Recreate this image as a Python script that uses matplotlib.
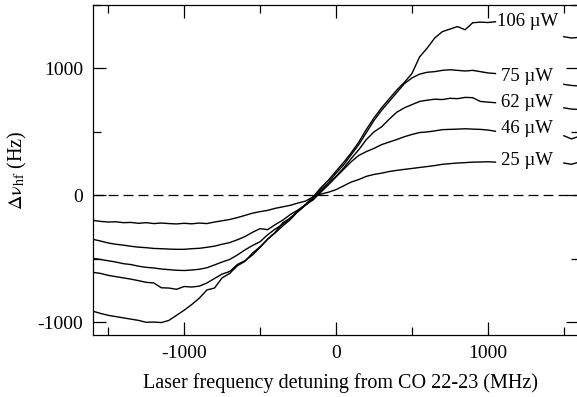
import numpy as np
import matplotlib
matplotlib.use('Agg')
import matplotlib.pyplot as plt
from matplotlib.ticker import MultipleLocator

plt.rcParams['font.family'] = ['Liberation Serif', 'DejaVu Serif']
plt.rcParams['mathtext.fontset'] = 'stix'
plt.rcParams['axes.unicode_minus'] = False

# detuning grid (MHz); nan = hidden behind the labels
detuning = np.arange(-1600, 1601, 50)

p25 = [-197, -205, -210, -208, -215, -213, -220, -215, -222, -218, -222, -225, -220, -224, -218, -222,
       -210, -200, -190, -175, -158, -140, -128, -118, -102, -90, -78, -60, -45, -10, 10, 25, 45, 75, 105,
       125, 150, 165, 175, 188, 197, 205, 212, 220, 227, 235, 245, 250, 255, 258, 262, 263, 265, 262,
       np.nan, np.nan, np.nan, np.nan, np.nan, np.nan, np.nan, np.nan, 255, 245, 262]
p46 = [-346, -360, -375, -385, -392, -401, -408, -412, -418, -420, -423, -425, -425, -420, -417, -409,
       -400, -385, -372, -350, -325, -291, -262, -270, -230, -195, -150, -115, -75, -35, 25, 85, 145, 205,
       265, 315, 345, 370, 400, 420, 440, 462, 480, 495, 500, 508, 518, 520, 522, 525, 522, 520, 515, 505,
       np.nan, np.nan, np.nan, np.nan, np.nan, np.nan, np.nan, np.nan, 470, 445, 465]
p62 = [-496, -505, -515, -525, -538, -545, -558, -567, -572, -580, -585, -590, -592, -588, -582, -570,
       -548, -525, -505, -470, -430, -395, -365, -310, -265, -228, -175, -128, -75, -25, 30, 85, 150, 215,
       290, 360, 440, 500, 540, 600, 655, 690, 715, 740, 750, 758, 755, 765, 762, 772, 770, 740, 735, 730,
       np.nan, np.nan, np.nan, np.nan, np.nan, np.nan, np.nan, np.nan, 690, 680, 677]
p75 = [-606, -615, -630, -640, -650, -660, -672, -685, -690, -728, -730, -740, -718, -722, -715, -690,
       -655, -620, -600, -545, -515, -470, -410, -345, -295, -240, -190, -125, -75, -20, 45, 100, 175, 240,
       320, 400, 495, 590, 670, 740, 810, 880, 925, 955, 970, 975, 985, 990, 985, 980, 985, 975, 965, 960,
       np.nan, np.nan, np.nan, np.nan, np.nan, np.nan, np.nan, np.nan, 875, 866, 862]
p106 = [-913, -930, -945, -955, -965, -975, -985, -1000, -998, -1002, -985, -945, -905, -860, -810, -745,
        -730, -650, -615, -555, -520, -455, -405, -345, -290, -215, -180, -120, -70, -10, 60, 120, 190, 260,
        335, 420, 520, 610, 690, 760, 830, 890, 960, 1090, 1160, 1240, 1290, 1310, 1330, 1305, 1360, 1365,
        1362, 1368, np.nan, np.nan, np.nan, np.nan, np.nan, np.nan, np.nan, np.nan, 1250, 1240, 1245]

curves = [p25, p46, p62, p75, p106]
labels = ['25 µW', '46 µW', '62 µW', '75 µW', '106 µW']
label_x = [1086, 1086, 1086, 1086, 1059]
label_y = [276, 528, 732, 935, 1370]

fig = plt.figure(figsize=(5.77, 3.97), dpi=100)
ax = fig.add_axes([93/577, 62/397, 486/577, 330/397])

ax.axhline(0, color='k', lw=0.9, ls=(0, (8, 4)))
for y in curves:
    ax.plot(detuning, y, color='k', lw=1.0)
for t, lx, ly in zip(labels, label_x, label_y):
    ax.text(lx, ly, t, ha='left', va='center', fontsize=13.5)

ax.set_xlim(-1600, 1600)
ax.set_ylim(-1100, 1500)
ax.xaxis.set_major_locator(MultipleLocator(1000))
ax.xaxis.set_minor_locator(MultipleLocator(500))
ax.yaxis.set_major_locator(MultipleLocator(1000))
ax.yaxis.set_minor_locator(MultipleLocator(500))
ax.tick_params(which='both', direction='in', top=True, right=True, labelsize=14, width=0.9)
ax.tick_params(which='major', length=9.4, pad=7)
ax.tick_params(which='minor', length=5.8)
for s in ax.spines.values():
    s.set_linewidth(0.9)

ax.set_xlabel('Laser frequency detuning from CO 22-23 (MHz)', fontsize=14.5)
ax.xaxis.set_label_coords(0.51, -0.115)
ax.set_ylabel(r'$\mathrm{\Delta\nu_{hf}}$ (Hz)', fontsize=14.5, labelpad=6)

fig.savefig('out.png', dpi=100)
